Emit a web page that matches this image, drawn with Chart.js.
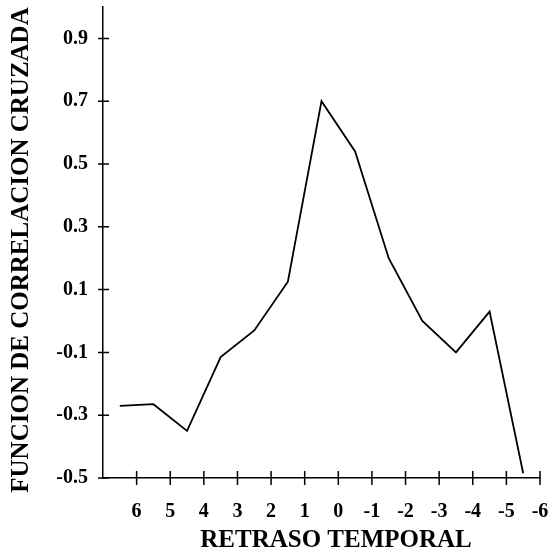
<!DOCTYPE html>
<html>
<head>
<meta charset="utf-8">
<script src="https://cdn.jsdelivr.net/npm/chart.js@4/dist/chart.umd.min.js"></script>
<style>
  html, body { margin: 0; padding: 0; background: #ffffff; }
  #wrap { width: 553px; height: 560px; position: relative; }
</style>
</head>
<body>
<div id="wrap"><canvas id="c" width="553" height="560"></canvas></div>
<script>
// Data
const lags = [6.5, 5.5, 4.5, 3.5, 2.5, 1.5, 0.5, -0.5, -1.5, -2.5, -3.5, -4.5, -5.5];
const correlation = [-0.27, -0.265, -0.35, -0.115, -0.03, 0.125, 0.70, 0.54, 0.20, 0.0, -0.10, 0.03, -0.485];
const xTickValues = [6, 5, 4, 3, 2, 1, 0, -1, -2, -3, -4, -5, -6];
const yTickValues = [-0.5, -0.3, -0.1, 0.1, 0.3, 0.5, 0.7, 0.9];
const xTitle = 'RETRASO TEMPORAL';
const yTitle = 'FUNCION DE CORRELACION CRUZADA';

const serif = '"Liberation Serif", "Times New Roman", serif';

function zeroPad(s) {
  s.paddingTop = 0; s.paddingBottom = 0; s.paddingLeft = 0; s.paddingRight = 0;
}

const crossTicks = {
  id: 'crossTicks',
  afterDraw(chart) {
    const ctx = chart.ctx;
    const xs = chart.scales.x, ys = chart.scales.y;
    const area = chart.chartArea;
    ctx.save();
    ctx.strokeStyle = '#000';
    ctx.lineWidth = 1.5;
    ctx.beginPath();
    ys.ticks.forEach(t => {
      const py = ys.getPixelForValue(t.value);
      ctx.moveTo(area.left - 5, py);
      ctx.lineTo(area.left + 6, py);
    });
    xs.ticks.forEach(t => {
      const px = xs.getPixelForValue(t.value);
      ctx.moveTo(px, area.bottom - 7);
      ctx.lineTo(px, area.bottom + 7);
    });
    ctx.stroke();

    // axis titles
    ctx.fillStyle = '#000';
    ctx.textAlign = 'center';
    ctx.textBaseline = 'middle';
    ctx.font = 'bold 25px ' + serif;
    ctx.fillText(xTitle, 336, 541);
    ctx.translate(22, 250);
    ctx.rotate(-Math.PI / 2);
    ctx.fillText(yTitle, 0, 0);
    ctx.restore();
  }
};

new Chart(document.getElementById('c'), {
  type: 'line',
  data: {
    datasets: [{
      data: lags.map((x, i) => ({ x: x, y: correlation[i] })),
      borderColor: '#000',
      borderWidth: 1.8,
      pointRadius: 0,
      tension: 0,
      fill: false
    }]
  },
  options: {
    responsive: false,
    animation: false,
    layout: { padding: { left: 0, top: 7, right: 13, bottom: 0 } },
    plugins: { legend: { display: false }, tooltip: { enabled: false } },
    scales: {
      x: {
        type: 'linear',
        reverse: true,
        min: -6,
        max: 7,
        afterBuildTicks: s => { s.ticks = xTickValues.map(v => ({ value: v })); },
        afterFit: s => { s.height = 82; zeroPad(s); },
        grid: { display: false, drawTicks: false },
        border: { display: true, color: '#000', width: 1.5 },
        ticks: {
          color: '#000',
          padding: 22,
          maxRotation: 0,
          autoSkip: false,
          font: { family: serif, size: 20, weight: 'bold' },
          callback: v => String(v)
        },
        title: { display: false }
      },
      y: {
        type: 'linear',
        min: -0.5,
        max: 1.0,
        afterBuildTicks: s => { s.ticks = yTickValues.map(v => ({ value: v })); },
        afterFit: s => { s.width = 103; zeroPad(s); },
        grid: { display: false, drawTicks: false },
        border: { display: true, color: '#000', width: 1.5 },
        ticks: {
          color: '#000',
          padding: 15,
          autoSkip: false,
          font: { family: serif, size: 20, weight: 'bold' },
          callback: v => v.toFixed(1)
        },
        title: { display: false }
      }
    }
  },
  plugins: [crossTicks]
});
</script>
</body>
</html>
